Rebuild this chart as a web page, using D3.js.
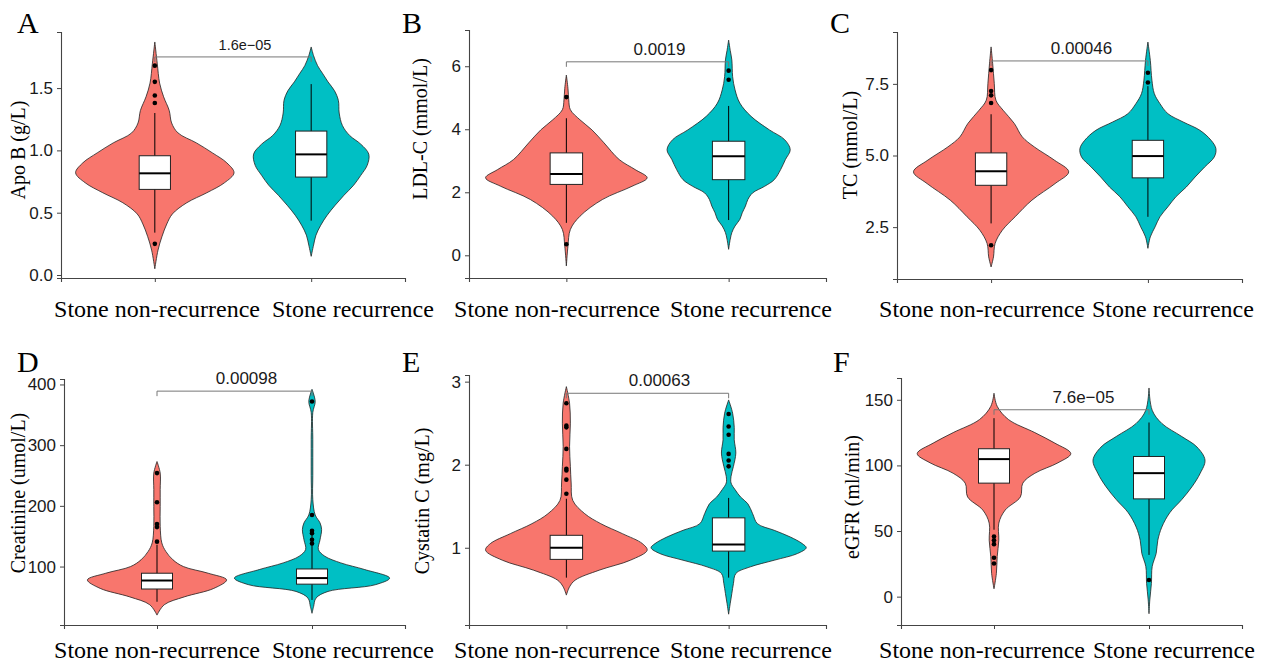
<!DOCTYPE html>
<html>
<head>
<meta charset="utf-8">
<script src="https://cdn.jsdelivr.net/npm/d3@7"></script>
<style>
  body { margin: 0; background: #fff; }
  svg { display: block; }
</style>
</head>
<body>
<svg id="chart"></svg>
<script>
// Data
const groups = ["Stone non-recurrence", "Stone recurrence"];
const panelLetters = ["A", "B", "C", "D", "E", "F"];
const yTitles = ["Apo B (g/L)", "LDL-C (mmol/L)", "TC (mmol/L)",
  "Creatinine (umol/L)", "Cystatin C (mg/L)", "eGFR (ml/min)"];
const pLabels = ["1.6e\u221205", "0.0019", "0.00046", "0.00098", "0.00063", "7.6e\u221205"];
const bracketY = [1.75, 6.14, 8.30, 389, 2.86, 142.4];
const yDomains = [[-0.024, 1.95], [-0.72, 7.15], [0.69, 9.31], [3.7, 409], [0.07, 3.08], [-21.6, 166.6]];
const yTicks = [[0, 0.5, 1.0, 1.5], [0, 2, 4, 6], [2.5, 5.0, 7.5], [100, 200, 300, 400], [1, 2, 3], [0, 50, 100, 150]];
const yFormats = [".1f", "d", ".1f", "d", "d", "d"];

// violin outlines: [value, relative density (%)]
const violinNonRec = [
  [[1.87,0],[1.70,3],[1.54,6],[1.43,11],[1.32,18],[1.22,21],[1.14,29],[1.06,52],[0.98,72],[0.90,90],[0.82,99],[0.74,87],[0.66,65],[0.58,40],[0.49,22],[0.41,15],[0.31,9],[0.20,4],[0.05,0]],
  [[5.72,0],[5.3,2],[4.93,3],[4.62,5],[4.30,17],[3.98,32],[3.57,47],[3.04,66],[2.72,86],[2.46,101],[2.19,82],[1.77,45],[1.24,17],[0.82,5],[0.29,2],[-0.34,0]],
  [[8.79,0],[8.2,2],[7.51,4],[6.93,6],[6.58,15],[6.12,29],[5.65,39],[5.30,54],[4.84,79],[4.43,97],[4.02,80],[3.44,51],[2.86,30],[2.39,14],[1.93,5],[1.46,3],[1.11,0]],
  [[273,0],[254,4],[227,4],[199,4],[166,4],[139,6],[125,11],[111,20],[100,33],[89,64],[78,87],[64,71],[50,34],[37,9],[20,0]],
  [[2.94,0],[2.74,4],[2.50,5],[2.22,4],[1.98,5],[1.78,6],[1.57,8],[1.41,23],[1.29,43],[1.17,70],[1.05,95],[0.97,101],[0.85,80],[0.73,41],[0.61,11],[0.53,4],[0.43,0]],
  [[155,0],[145,4],[135,18],[125,51],[117,76],[109,96],[102,80],[94,51],[86.5,36],[76,33],[66,14],[56,6],[43,6],[30.5,4],[17.8,3],[6,0]]
];
const violinRec = [
  [[1.83,0],[1.76,3],[1.68,8],[1.62,14],[1.55,21],[1.48,29],[1.40,34],[1.30,35],[1.20,39],[1.12,48],[1.05,62],[0.97,72],[0.88,70],[0.80,62],[0.72,53],[0.64,41],[0.56,30],[0.48,20],[0.40,12],[0.32,6],[0.24,3],[0.15,0]],
  [[6.83,0],[6.5,2],[6.2,4],[5.67,5],[5.25,8],[4.83,14],[4.41,28],[3.98,51],[3.67,70],[3.35,77],[3.04,71],[2.72,65],[2.40,57],[2.19,45],[1.98,30],[1.77,24],[1.56,21],[1.35,17],[1.14,14],[0.93,8],[0.72,4],[0.51,2],[0.19,0]],
  [[8.96,0],[8.32,3],[7.63,5],[7.16,8],[6.81,15],[6.46,25],[6.17,44],[5.88,65],[5.53,79],[5.24,85],[4.95,83],[4.60,71],[4.25,59],[3.90,48],[3.56,35],[3.21,25],[2.86,15],[2.51,9],[2.16,3],[1.76,0]],
  [[392,0],[372,4],[354,1],[309,1],[250,1],[210,1],[185,4],[172,10],[161,12],[144,10],[128,8],[117,16],[106,36],[95,66],[81,97],[70,79],[59,20],[48,5],[34,2],[23,0]],
  [[2.78,0],[2.62,5],[2.45,7],[2.30,7],[2.14,9],[1.98,6],[1.86,3],[1.78,3],[1.70,8],[1.61,15],[1.53,24],[1.41,30],[1.29,36],[1.21,57],[1.13,77],[1.05,92],[1.0,97],[0.93,86],[0.85,57],[0.77,27],[0.69,9],[0.57,6],[0.45,4],[0.33,2],[0.20,0]],
  [[159,0],[142,4],[132,16],[122,41],[114,60],[104,70],[94,64],[84,54],[74,41],[64,26],[53,16],[43,11],[33,9],[23,4],[10,3],[-2.5,1],[-13,0]]
];

// box stats: [lower whisker, q1, median, q3, upper whisker]
const boxNonRec = [
  [0.34, 0.687, 0.816, 0.957, 1.30],
  [1.03, 2.25, 2.58, 3.25, 4.35],
  [2.63, 3.96, 4.45, 5.09, 6.44],
  [42, 63, 77, 89, 136],
  [0.64, 0.86, 1.0, 1.15, 1.59],
  [51, 86.5, 104.8, 112.7, 136]
];
const boxRec = [
  [0.436, 0.786, 0.968, 1.155, 1.532],
  [1.12, 2.40, 3.14, 3.62, 4.74],
  [2.86, 4.22, 4.98, 5.53, 7.42],
  [45, 71, 81, 96, 153],
  [0.64, 0.96, 1.04, 1.36, 1.60],
  [31.8, 74.5, 94.1, 106.8, 132.7]
];
const outNonRec = [
  [1.68, 1.55, 1.44, 1.38, 0.25],
  [5.02, 0.35],
  [7.98, 7.25, 7.10, 6.83, 1.87],
  [254, 206, 170, 165, 141],
  [2.74, 2.47, 2.45, 2.19, 1.95, 1.93, 1.82, 1.65],
  [45.8, 43, 40, 29.6, 25.3]
];
const outRec = [
  [],
  [5.86, 5.57],
  [7.89, 7.55],
  [372, 185, 159, 155, 144, 138],
  [2.61, 2.46, 2.36, 2.13, 2.05, 1.98],
  [12.7]
];

const colors = ["#F8766D", "#00BFC4"];

// Layout of the six panels
const layout = [
  { left: 61,  right: 405,  top: 32,  bottom: 278, lx: 17,  ly: 33,  tx: 18,  ty: 150, labEnd: 260,  labStart: 272,  labY: 317, pSize: 14.5 },
  { left: 469, right: 826,  top: 30,  bottom: 278, lx: 402, ly: 33,  tx: 420, ty: 129, labEnd: 660,  labStart: 670,  labY: 317, pSize: 17 },
  { left: 897, right: 1242, top: 32,  bottom: 279, lx: 830, ly: 33,  tx: 850, ty: 145, labEnd: 1085, labStart: 1092, labY: 317, pSize: 17 },
  { left: 64,  right: 405,  top: 379, bottom: 625, lx: 17,  ly: 372, tx: 18,  ty: 493, labEnd: 260,  labStart: 272,  labY: 658, pSize: 17 },
  { left: 469, right: 826,  top: 375, bottom: 625, lx: 402, ly: 372, tx: 422, ty: 501, labEnd: 660,  labStart: 670,  labY: 658, pSize: 17 },
  { left: 901, right: 1242, top: 378, bottom: 625, lx: 833, ly: 372, tx: 852, ty: 497, labEnd: 1085, labStart: 1093, labY: 658, pSize: 17 }
];

const serif = "'Liberation Serif', 'Times New Roman', serif";
const sans = "'Liberation Sans', Arial, sans-serif";

const svg = d3.select("#chart").attr("width", 1261).attr("height", 664);

const wScale = d3.scaleLinear().domain([0, 100]).range([0, 80]);

layout.forEach((L, i) => {
  const g = svg.append("g");

  const x = d3.scalePoint().domain(groups).range([L.left, L.right]).padding(0.6);
  const y = d3.scaleLinear().domain(yDomains[i]).range([L.bottom, L.top]);
  const boxW = x.step() * 0.2;

  // Violins
  const violins = [violinNonRec[i], violinRec[i]];
  violins.forEach((prof, k) => {
    const cx = x(groups[k]);
    const area = d3.area()
      .y(d => y(d[0]))
      .x0(d => cx - wScale(d[1]))
      .x1(d => cx + wScale(d[1]))
      .curve(d3.curveCatmullRom);
    g.append("path")
      .attr("d", area(prof))
      .attr("fill", colors[k])
      .attr("stroke", "#222")
      .attr("stroke-width", 0.8);
  });

  // Boxes
  const boxes = [boxNonRec[i], boxRec[i]];
  boxes.forEach((b, k) => {
    const cx = x(groups[k]);
    g.append("line")
      .attr("x1", cx).attr("x2", cx)
      .attr("y1", y(b[0])).attr("y2", y(b[4]))
      .attr("stroke", "#000").attr("stroke-width", 1);
    g.append("rect")
      .attr("x", cx - boxW / 2).attr("width", boxW)
      .attr("y", y(b[3])).attr("height", y(b[1]) - y(b[3]))
      .attr("fill", "#fff").attr("stroke", "#222").attr("stroke-width", 1);
    g.append("line")
      .attr("x1", cx - boxW / 2).attr("x2", cx + boxW / 2)
      .attr("y1", y(b[2])).attr("y2", y(b[2]))
      .attr("stroke", "#000").attr("stroke-width", 2);
  });

  // Outliers
  [outNonRec[i], outRec[i]].forEach((pts, k) => {
    g.selectAll(null).data(pts).enter().append("circle")
      .attr("cx", x(groups[k]))
      .attr("cy", d => y(d))
      .attr("r", 2.3)
      .attr("fill", "#000");
  });

  // Axes
  const yAxis = g.append("g")
    .attr("transform", `translate(${L.left},0)`)
    .call(d3.axisLeft(y).tickValues(yTicks[i]).tickFormat(d3.format(yFormats[i])).tickSizeOuter(0).tickSize(4).tickPadding(4));
  const xAxis = g.append("g")
    .attr("transform", `translate(0,${L.bottom})`)
    .call(d3.axisBottom(x).tickFormat("").tickSizeOuter(0).tickSize(4));
  [yAxis, xAxis].forEach(a => {
    a.select(".domain").attr("stroke", "#444").attr("stroke-width", 1.1);
    a.selectAll(".tick line").attr("stroke", "#444").attr("stroke-width", 1);
  });
  yAxis.selectAll(".tick text")
    .attr("font-family", sans).attr("font-size", 17).attr("fill", "#1a1a1a");

  // Category labels
  g.append("text")
    .attr("x", L.labEnd).attr("y", L.labY)
    .attr("text-anchor", "end")
    .attr("font-family", serif).attr("font-size", 24).attr("fill", "#000")
    .text(groups[0]);
  g.append("text")
    .attr("x", L.labStart).attr("y", L.labY)
    .attr("text-anchor", "start")
    .attr("font-family", serif).attr("font-size", 24).attr("fill", "#000")
    .text(groups[1]);

  // Y title
  g.append("text")
    .attr("transform", `translate(${L.tx + 7},${L.ty}) rotate(-90)`)
    .attr("text-anchor", "middle")
    .attr("font-family", serif).attr("font-size", 20).attr("fill", "#000")
    .text(yTitles[i]);

  // Panel letter
  g.append("text")
    .attr("x", L.lx).attr("y", L.ly)
    .attr("font-family", serif).attr("font-size", 30).attr("fill", "#000")
    .text(panelLetters[i]);

  // Significance bracket
  const x1 = x(groups[0]), x2 = x(groups[1]), by = y(bracketY[i]);
  g.append("path")
    .attr("d", `M${x1},${by + 5}V${by}H${x2}V${by + 5}`)
    .attr("fill", "none")
    .attr("stroke", "#777")
    .attr("stroke-width", 1);
  g.append("text")
    .attr("x", (x1 + x2) / 2 + 12).attr("y", by - 7)
    .attr("text-anchor", "middle")
    .attr("font-family", sans).attr("font-size", L.pSize).attr("fill", "#1a1a1a")
    .text(pLabels[i]);
});
</script>
</body>
</html>
